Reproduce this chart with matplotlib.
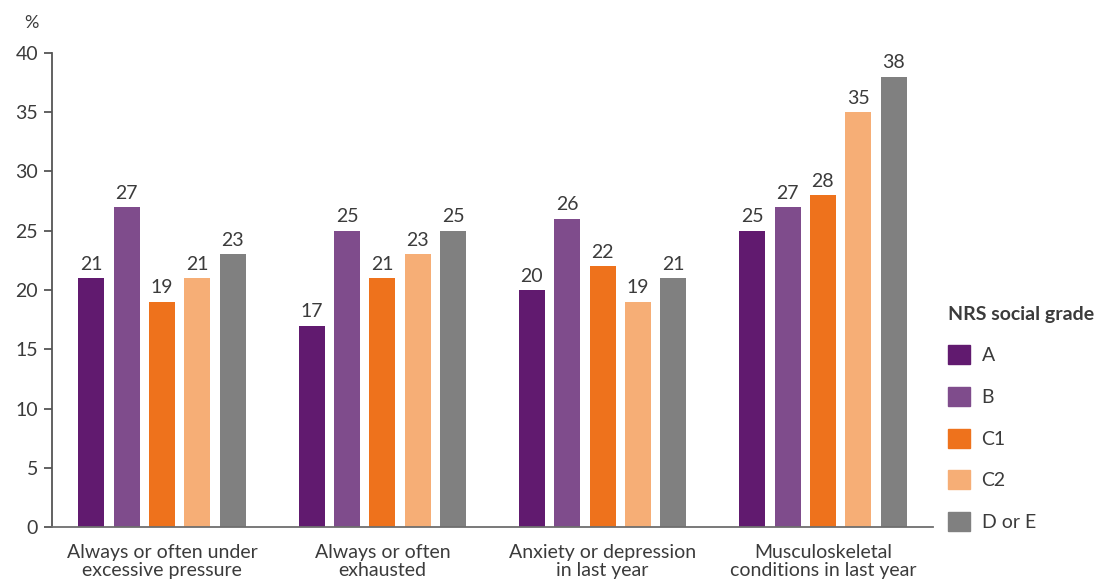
import numpy as np
import matplotlib
matplotlib.use("Agg")
import matplotlib.pyplot as plt
import matplotlib.patches as mpatches

plt.rcParams["font.family"] = ["Lato", "DejaVu Sans"]

# ── Data ─────────────────────────────────────────────────────────────────────
categories = [
    "Always or often under\nexcessive pressure",
    "Always or often\nexhausted",
    "Anxiety or depression\nin last year",
    "Musculoskeletal\nconditions in last year",
]
grades = ["A", "B", "C1", "C2", "D or E"]
values = {
    "A":      [21, 17, 20, 25],
    "B":      [27, 25, 26, 27],
    "C1":     [19, 21, 22, 28],
    "C2":     [21, 23, 19, 35],
    "D or E": [23, 25, 21, 38],
}
colors = ["#611a6f", "#7f4c8c", "#ee721c", "#f6ae76", "#808080"]
yticks = [0, 5, 10, 15, 20, 25, 30, 35, 40]

TXT = "#3b3b3b"
AX = "#555555"
FS = 14

# ── Plot ─────────────────────────────────────────────────────────────────────
fig = plt.figure(figsize=(10.99, 5.81), dpi=100)
ax = fig.add_axes([0.0473, 0.0929, 0.8017, 0.8159])

x = np.arange(len(categories))
pitch = 0.1606
width = 0.118
for i, (g, c) in enumerate(zip(grades, colors)):
    pos = x + (i - 2) * pitch
    bars = ax.bar(pos, values[g], width=width, color=c, label=g, zorder=2)
    for b, v in zip(bars, values[g]):
        ax.text(b.get_x() + b.get_width() / 2, v + 0.46, f"{v}",
                ha="center", va="bottom", fontsize=FS, color=TXT)

ax.set_xlim(-0.5, 3.5)
ax.set_ylim(0, 40)
ax.set_yticks(yticks)
ax.set_xticks(x)
ax.set_xticklabels(categories, fontsize=FS, color=TXT, linespacing=1.12)
ax.tick_params(axis="x", length=0, pad=12)
ax.tick_params(axis="y", length=6, width=1.3, color=AX, labelsize=FS,
               labelcolor=TXT, pad=4)
for s in ["top", "right"]:
    ax.spines[s].set_visible(False)
for s in ["left", "bottom"]:
    ax.spines[s].set_color(AX)
    ax.spines[s].set_linewidth(1.3)
ax.spines["bottom"].set_color("#6e6e6e")

fig.text(0.022, 0.960, "%", fontsize=13, color=TXT, ha="left", va="center")

handles = [mpatches.Patch(color=c, label=g) for g, c in zip(grades, colors)]
leg = ax.legend(handles=handles, title="NRS social grade", loc="upper left",
                bbox_to_anchor=(0.8555, 0.4865), bbox_transform=fig.transFigure,
                frameon=False, fontsize=FS, title_fontsize=FS,
                handlelength=1.13, handleheight=1.13, labelspacing=1.16,
                handletextpad=0.6, borderaxespad=0, alignment="left")
leg.get_title().set_fontweight("bold")
leg.get_title().set_color(TXT)
for t in leg.get_texts():
    t.set_color(TXT)
leg._legend_box.sep = 16

fig.savefig("out.png", dpi=100)
